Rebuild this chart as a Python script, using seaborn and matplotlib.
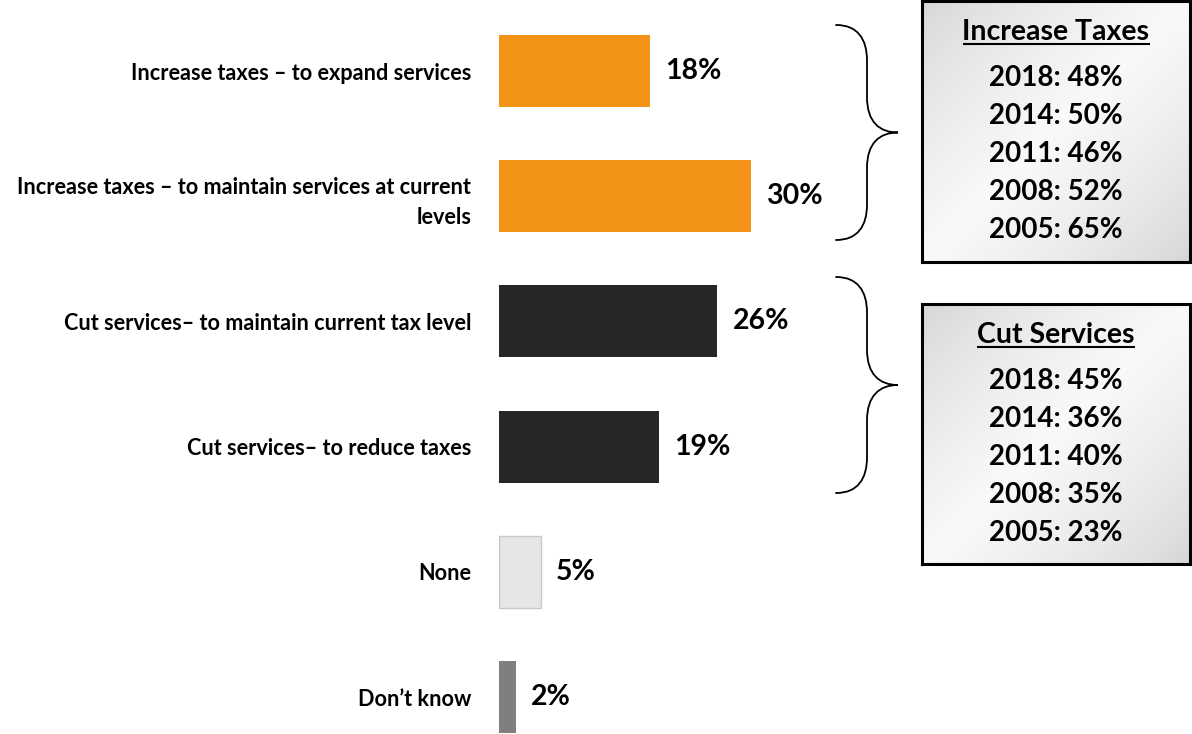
import numpy as np
import matplotlib
matplotlib.use("Agg")
import matplotlib.pyplot as plt
from matplotlib.path import Path
from matplotlib.patches import PathPatch
from matplotlib import font_manager as fm
import seaborn as sns

# Survey responses
categories = [
    "Increase taxes \u2013 to expand services",
    "Increase taxes \u2013 to maintain services at current\nlevels",
    "Cut services\u2013 to maintain current tax level",
    "Cut services\u2013 to reduce taxes",
    "None",
    "Don\u2019t know",
]
values = [18, 30, 26, 19, 5, 2]
bar_colors = ["#F39419", "#F39419", "#262626", "#262626", "#E6E6E6", "#7F7F7F"]

# Trend boxes
tax_title = "Increase Taxes"
tax_years = ["2018", "2014", "2011", "2008", "2005"]
tax_values = [48, 50, 46, 52, 65]
cut_title = "Cut Services"
cut_years = ["2018", "2014", "2011", "2008", "2005"]
cut_values = [45, 36, 40, 35, 23]

sns.set_theme(style="white")


def bold_family():
    """Pick the first preferred family that ships a real bold face."""
    for fam in ["Lato", "Open Sans", "Noto Sans", "Roboto", "DejaVu Sans"]:
        for f in fm.fontManager.ttflist:
            w = f.weight if isinstance(f.weight, int) else 700
            if f.name == fam and f.style == "normal" and 650 <= w <= 800:
                return fam, f.fname
    return "DejaVu Sans", None


FAM, BOLD_FILE = bold_family()
plt.rcParams["font.family"] = [FAM, "DejaVu Sans"]


def bfont(size):
    if BOLD_FILE:
        return fm.FontProperties(fname=BOLD_FILE, size=size)
    return fm.FontProperties(family=FAM, weight="bold", size=size)


W, H = 1192, 734
fig = plt.figure(figsize=(W / 100, H / 100), dpi=100)
fig.patch.set_facecolor("white")

# Main bar chart
x0 = 499
ax = fig.add_axes([x0 / W, 0, (W - x0) / W, 1])
sns.barplot(x=values, y=categories, hue=categories, palette=bar_colors,
            orient="h", width=0.575, legend=False, ax=ax, saturation=1,
            linewidth=0)
px_per_unit = 8.4
ax.set_xlim(0, (W - x0) / px_per_unit)
ax.set_ylim((H - 71) / 125.2, -71 / 125.2)
for c in ax.containers:
    ax.bar_label(c, fmt="%d%%", padding=11, fontproperties=bfont(20.5),
                 color="black")
# light outline on the pale bar
for p in ax.containers[4]:
    p.set_edgecolor("#C8C8C8")
    p.set_linewidth(1.0)
ax.tick_params(axis="y", length=0, pad=20)
for t in ax.get_yticklabels():
    t.set_fontproperties(bfont(15.6))
    t.set_color("black")
    t.set_linespacing(1.5)
ax.set_xticks([])
ax.set_xlabel("")
ax.set_ylabel("")
sns.despine(ax=ax, left=True, bottom=True)

# Overlay for braces, in pixel coordinates
ov = fig.add_axes([0, 0, 1, 1], facecolor="none")
ov.set_xlim(0, W)
ov.set_ylim(H, 0)
ov.axis("off")


def brace(ax_, xs, xv, xt, ytop, ybot):
    ym = (ytop + ybot) / 2
    h = ybot - ytop
    a = 0.165 * h
    verts = [
        (xs, ytop),
        (xs + 0.7 * (xv - xs), ytop), (xv, ytop + 0.4 * a), (xv, ytop + a),
        (xv, ym - a),
        (xv, ym - 0.3 * a), (xv + 0.4 * (xt - xv), ym), (xt, ym),
        (xv + 0.4 * (xt - xv), ym), (xv, ym + 0.3 * a), (xv, ym + a),
        (xv, ybot - a),
        (xv, ybot - 0.4 * a), (xs + 0.7 * (xv - xs), ybot), (xs, ybot),
    ]
    codes = [Path.MOVETO,
             Path.CURVE4, Path.CURVE4, Path.CURVE4,
             Path.LINETO,
             Path.CURVE4, Path.CURVE4, Path.CURVE4,
             Path.CURVE4, Path.CURVE4, Path.CURVE4,
             Path.LINETO,
             Path.CURVE4, Path.CURVE4, Path.CURVE4]
    ax_.add_patch(PathPatch(Path(verts, codes), fill=False, lw=1.3,
                            edgecolor="black", capstyle="round"))


brace(ov, 836, 867, 898, 25, 240)
brace(ov, 836, 867, 898, 277, 493)

# Gradient-filled summary boxes
gy, gx = np.mgrid[0:1:200j, 0:1:200j]
s = (gx + gy) - 1.0
grad = 0.83 + 0.145 * (1 - np.abs(s)) ** 0.7


def summary_box(left, top, width, height, title, years, vals):
    bx = fig.add_axes([left / W, 1 - (top + height) / H, width / W, height / H])
    bx.imshow(grad, cmap="gray", vmin=0, vmax=1, extent=(0, width, height, 0),
              aspect="auto", interpolation="bilinear")
    bx.set_xlim(0, width)
    bx.set_ylim(height, 0)
    bx.set_xticks([])
    bx.set_yticks([])
    for sp in bx.spines.values():
        sp.set_visible(True)
        sp.set_color("black")
        sp.set_linewidth(2.2)
    cx = width / 2
    t = bx.text(cx, 31, title, ha="center", va="center",
                fontproperties=bfont(20.5), color="black")
    fig.canvas.draw()
    bb = t.get_window_extent().transformed(bx.transData.inverted())
    bx.plot([bb.x0, bb.x1], [43, 43], color="black", lw=1.5,
            solid_capstyle="butt")
    for i, (yr, v) in enumerate(zip(years, vals)):
        bx.text(cx, 77 + 38 * i, f"{yr}: {v}%", ha="center", va="center",
                fontproperties=bfont(20), color="black")


summary_box(922, 1, 268, 261, tax_title, tax_years, tax_values)
summary_box(922, 304, 268, 260, cut_title, cut_years, cut_values)

fig.savefig("out.png", dpi=100)
